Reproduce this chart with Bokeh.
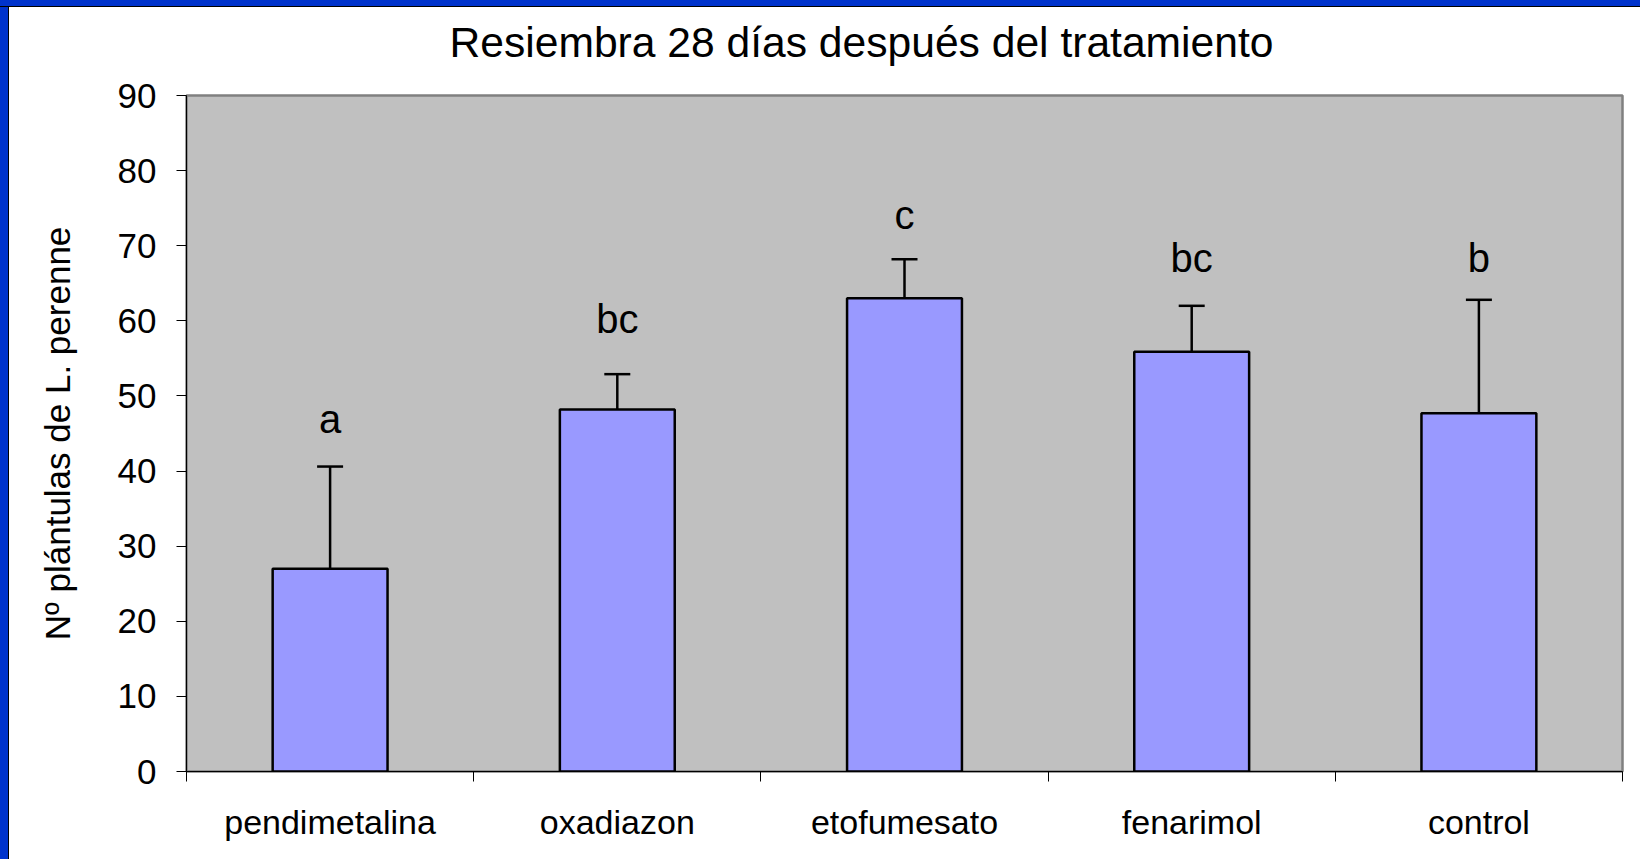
from bokeh.plotting import figure
from bokeh.embed import file_html
from bokeh.resources import INLINE
from bokeh.core.properties import value
from bokeh.layouts import column, row
from bokeh.models import (Range1d, LinearAxis, FixedTicker, Spacer,
                          Whisker, TeeHead, ColumnDataSource, LinearScale)

# ---- data ----
categories = ["pendimetalina", "oxadiazon", "etofumesato", "fenarimol", "control"]
means = [27.0, 48.2, 63.0, 55.9, 47.7]
errors = [13.6, 4.7, 5.2, 6.1, 15.1]
letters = ["a", "bc", "c", "bc", "b"]
letter_y = [46.9, 60.2, 74.1, 68.3, 68.3]
y_ticks = [0, 10, 20, 30, 40, 50, 60, 70, 80, 90]
title_text = "Resiembra 28 días después del tratamiento"
ylabel_text = "Nº plántulas de L. perenne"

FONT = "Liberation Sans"

n = len(categories)
xpos = list(range(n))

src = ColumnDataSource(dict(
    x=xpos,
    mean=means,
    upper=[m + e for m, e in zip(means, errors)],
    letter=letters,
    ly=letter_y,
))

p = figure(
    x_range=Range1d(-0.5, n - 0.5),
    y_range=Range1d(y_ticks[0], y_ticks[-1]),
    width=1631, height=852,
    output_backend="svg", toolbar_location=None,
    x_axis_location=None,
    min_border_left=177, min_border_top=88, min_border_right=18, min_border_bottom=88,
)
p.background_fill_color = "#C0C0C0"
p.border_fill_color = "white"
p.outline_line_color = "#808080"
p.outline_line_width = 2.5
p.xgrid.visible = False
p.ygrid.visible = False

# bars
p.vbar(x="x", top="mean", width=0.4, source=src,
       fill_color="#9999FF", line_color="black", line_width=2.5)

# error bars (upper only)
w = Whisker(base="x", lower="mean", upper="upper", source=src,
            line_color="black", line_width=2.5,
            upper_head=TeeHead(size=26, line_color="black", line_width=2.5),
            lower_head=None)
p.add_layout(w)

# significance letters
p.text(x="x", y="ly", text="letter", source=src,
       text_align="center", text_baseline="alphabetic",
       text_font=value(FONT), text_font_size="40px", text_color="black")

# y axis
ya = p.yaxis[0]
ya.ticker = FixedTicker(ticks=y_ticks)
ya.major_tick_out = 10
ya.major_tick_in = 0
ya.minor_tick_line_color = None
ya.axis_line_color = "black"
ya.major_tick_line_color = "black"
ya.major_label_text_font = FONT
ya.major_label_text_font_size = "35px"
ya.major_label_text_color = "black"
ya.major_label_standoff = 20
ya.axis_label = ylabel_text
ya.axis_label_text_font = FONT
ya.axis_label_text_font_size = "35px"
ya.axis_label_text_font_style = "normal"
ya.axis_label_text_color = "black"
ya.axis_label_standoff = 38

# x axis: boundary ticks (no labels)
ax1 = LinearAxis(ticker=FixedTicker(ticks=[i - 0.5 for i in range(n + 1)]),
                 major_tick_out=10, major_tick_in=0,
                 minor_tick_line_color=None,
                 axis_line_color="black", major_tick_line_color="black",
                 major_label_text_font_size="1px", major_label_text_alpha=0,
                 major_label_standoff=0)
p.add_layout(ax1, "below")
# x axis: category labels
ax2 = LinearAxis(ticker=FixedTicker(ticks=xpos),
                 major_label_overrides={i: c for i, c in zip(xpos, categories)},
                 axis_line_color=None, major_tick_line_color=None,
                 minor_tick_line_color=None,
                 major_tick_out=0, major_tick_in=0,
                 major_label_text_font=FONT, major_label_text_font_size="34px",
                 major_label_text_color="black", major_label_standoff=21)
p.add_layout(ax2, "below")

# title, drawn as the single label of a top axis so that its place is exact
# (pixel range across the frame: 0 is where the title is centred)
p.extra_x_ranges = {"title": Range1d(-675, 761)}
p.extra_x_scales = {"title": LinearScale()}
tax = LinearAxis(x_range_name="title", ticker=FixedTicker(ticks=[0]),
                 major_label_overrides={0: title_text},
                 axis_line_color=None, major_tick_line_color=None,
                 minor_tick_line_color=None,
                 major_tick_out=0, major_tick_in=0,
                 major_label_text_font=FONT, major_label_text_font_size="42.6px",
                 major_label_text_color="black", major_label_standoff=30)
p.add_layout(tax, "above")

# blue slide frame on the top and left edges
BLUE = "#0033CC"
top_blue = Spacer(width=1640, height=6, styles={"background-color": BLUE})
top_line = Spacer(width=1640, height=1, styles={"background-color": "black"})
left_blue = Spacer(width=8, height=852, styles={"background-color": BLUE})
left_line = Spacer(width=1, height=852, styles={"background-color": "black"})
page = column(top_blue, top_line, row(left_blue, left_line, p, spacing=0), spacing=0)

html = file_html(page, INLINE, title=title_text)
open("out.html", "w").write(html)
